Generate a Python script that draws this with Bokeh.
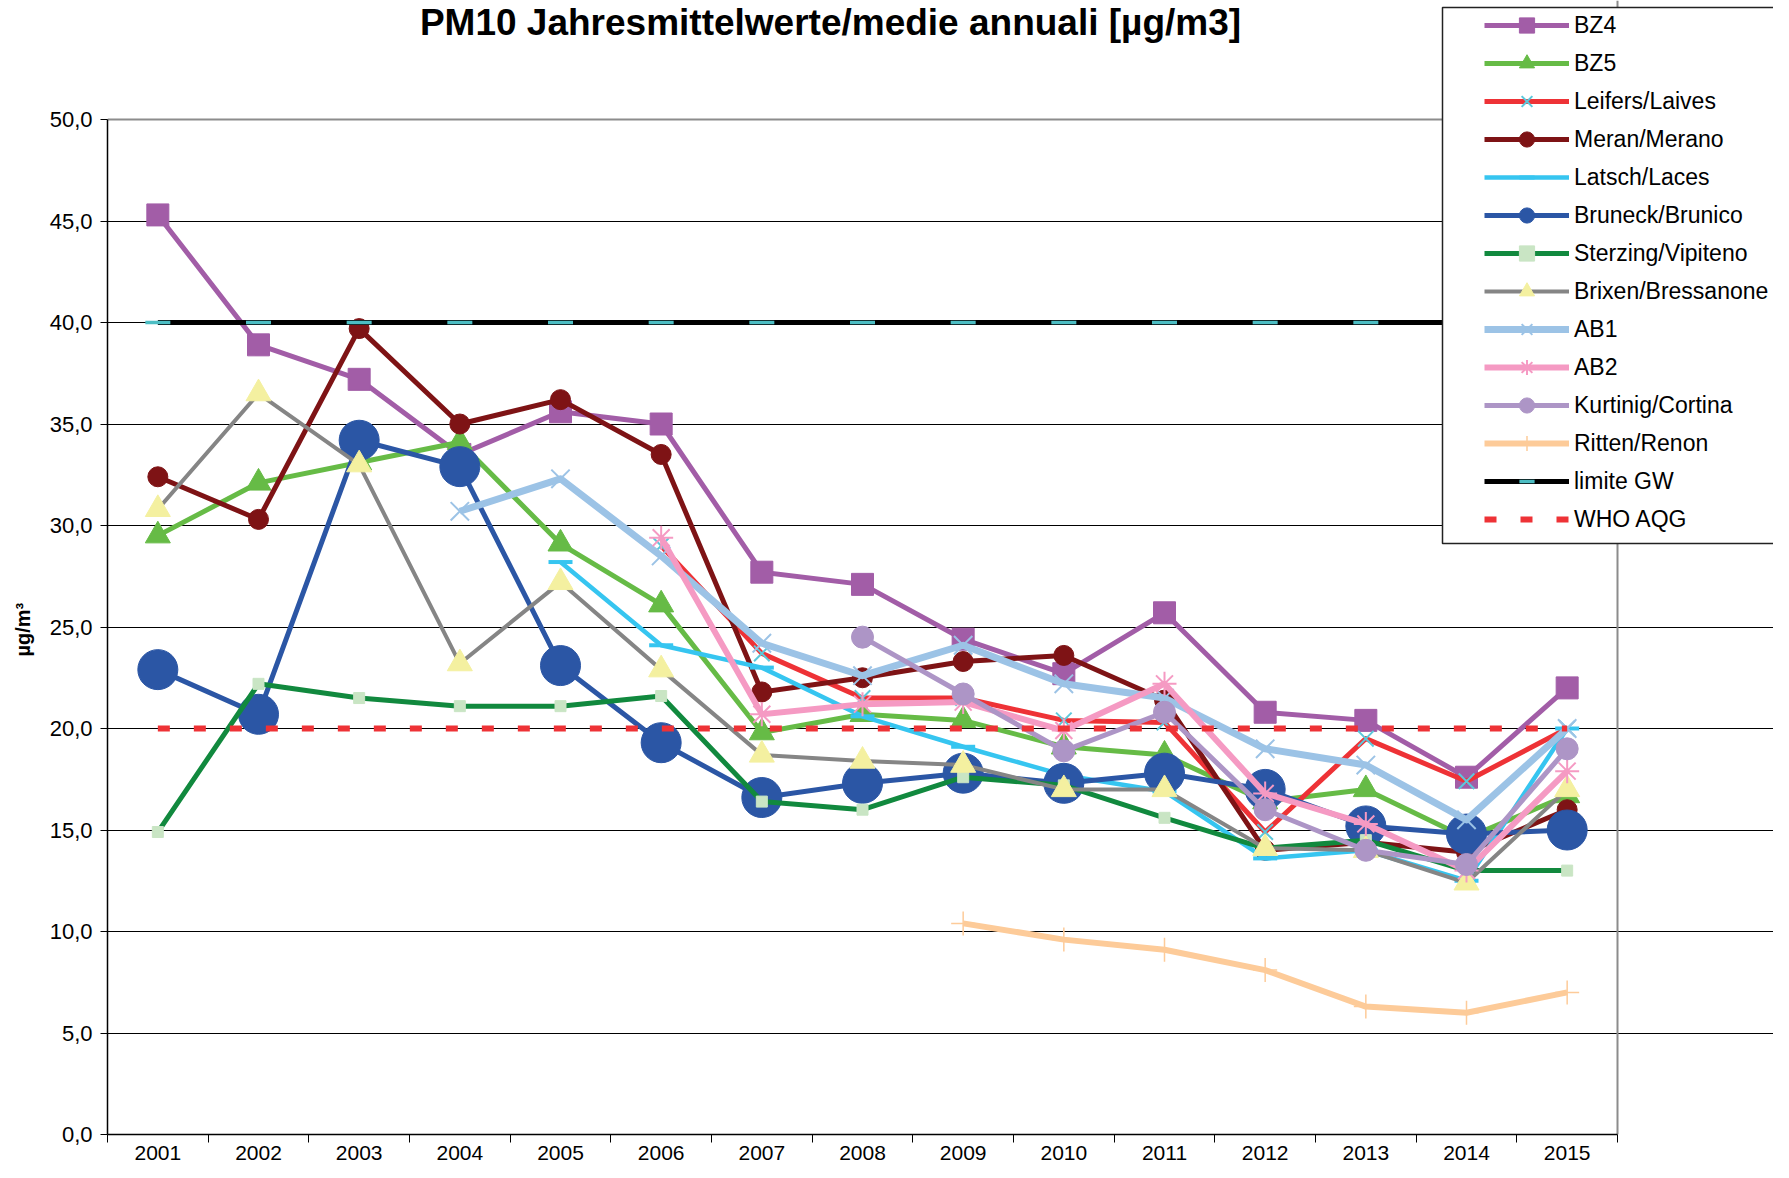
import numpy as np
from bokeh.plotting import figure
from bokeh.models import Range1d, FixedTicker, Legend, LegendItem, Label, BoxAnnotation, Grid, Title
from bokeh.embed import file_html
from bokeh.resources import INLINE

# ---------------- data ----------------
years = [2001, 2002, 2003, 2004, 2005, 2006, 2007, 2008, 2009, 2010, 2011, 2012, 2013, 2014, 2015]
y_ticks = [0, 5, 10, 15, 20, 25, 30, 35, 40, 45, 50]
y_tick_labels = ["0,0", "5,0", "10,0", "15,0", "20,0", "25,0", "30,0", "35,0", "40,0", "45,0", "50,0"]

title_text = "PM10 Jahresmittelwerte/medie annuali [µg/m3]"
y_label = "µg/m³"

bz4 = [45.3, 38.9, 37.2, 33.5, 35.6, 35.0, 27.7, 27.1, 24.4, 22.7, 25.7, 20.8, 20.4, 17.6, 22.0]
bz5 = [29.5, 32.1, 33.1, 34.1, 29.1, 26.1, 19.8, 20.7, 20.4, 19.1, 18.7, 16.4, 17.0, 14.6, 16.7]
leifers = [None, None, None, None, None, 29.0, 23.7, 21.5, 21.5, 20.4, 20.3, 14.9, 19.5, 17.4, 20.0]
meran = [32.4, 30.3, 39.7, 35.0, 36.2, 33.5, 21.8, 22.5, 23.3, 23.6, 21.4, 14.0, 14.4, 13.9, 16.0]
latsch = [None, None, None, None, 28.2, 24.1, 23.0, 20.6, 19.1, 17.7, 16.9, 13.6, 14.0, 12.5, 20.0]
bruneck = [22.9, 20.7, 34.2, 32.9, 23.1, 19.3, 16.6, 17.3, 17.8, 17.3, 17.8, 17.0, 15.2, 14.8, 15.0]
sterzing = [14.9, 22.2, 21.5, 21.1, 21.1, 21.6, 16.4, 16.0, 17.6, 17.2, 15.6, 14.1, 14.5, 13.0, 13.0]
brixen = [30.8, 36.5, 33.0, 23.2, 27.2, 22.9, 18.7, 18.4, 18.2, 17.0, 17.0, 14.1, 14.0, 12.4, 17.0]
ab1 = [None, None, None, 30.7, 32.3, 28.5, 24.2, 22.6, 24.1, 22.2, 21.5, 19.0, 18.2, 15.5, 20.0]
ab2 = [None, None, None, None, None, 29.4, 20.7, 21.2, 21.3, 19.9, 22.2, 16.8, 15.3, 13.0, 17.9]
kurtinig = [None, None, None, None, None, None, None, 24.5, 21.7, 18.9, 20.8, 16.0, 14.0, 13.3, 19.0]
ritten = [None, None, None, None, None, None, None, None, 10.4, 9.6, 9.1, 8.1, 6.3, 6.0, 7.0]
limite_gw = [40.0, 40.0, 40.0, 40.0, 40.0, 40.0, 40.0, 40.0, 40.0, 40.0, 40.0, 40.0, 40.0, 40.0, 40.0]
who_aqg = [20.0, 20.0, 20.0, 20.0, 20.0, 20.0, 20.0, 20.0, 20.0, 20.0, 20.0, 20.0, 20.0, 20.0, 20.0]

# name, values, line colour, line width, marker, marker size, fill, marker line colour, marker line width
series = [
    ("BZ4", bz4, "#A25DA7", 5, "square", 22, "#A25DA7", "#A25DA7", 1),
    ("BZ5", bz5, "#66BB46", 5, "triangle", 25, "#66BB46", "#66BB46", 1),
    ("Leifers/Laives", leifers, "#EE3236", 5, "x", 22, None, "#5CC8DB", 2),
    ("Meran/Merano", meran, "#7E1315", 5, "circle", 20, "#7E1315", "#7E1315", 1),
    ("Latsch/Laces", latsch, "#36C5F0", 4.5, "dash", 24, None, "#36C5F0", 4),
    ("Bruneck/Brunico", bruneck, "#2B56A5", 5, "circle", 40, "#2B56A5", "#2B56A5", 1),
    ("Sterzing/Vipiteno", sterzing, "#11893E", 5, "square", 11, "#C9E5C4", "#C9E5C4", 1),
    ("Brixen/Bressanone", brixen, "#858585", 4, "triangle", 25, "#F4F0A0", "#F4F0A0", 1),
    ("AB1", ab1, "#9CC3E6", 7, "x", 26, None, "#9CC3E6", 2),
    ("AB2", ab2, "#F59AC3", 6, "asterisk", 24, None, "#F59AC3", 2),
    ("Kurtinig/Cortina", kurtinig, "#AD95C6", 5, "circle", 22, "#AD95C6", "#AD95C6", 1),
    ("Ritten/Renon", ritten, "#FDCB99", 6, "cross", 24, None, "#FDCB99", 1.5),
    ("limite GW", limite_gw, "#000000", 5, "dash", 25, None, "#4CBDC3", 3.5),
]

FONT = "Liberation Sans"

# plot area: 2000.5..2015.5 on x, 0..50 on y; the frame is extended to the
# canvas top and right so the title and the legend can be drawn there
W, H = 1773, 1162
FL, FB = 107, 1134           # frame left / bottom in canvas px
px_per_year = 1510 / 15
px_per_unit = 1015 / 50
x_lo = years[0] - 0.5
x_hi = years[-1] + 0.5
x_end = x_lo + (W - FL) / px_per_year
y_end = FB / px_per_unit

p = figure(width=W, height=H,
           x_range=Range1d(x_lo, x_end), y_range=Range1d(0, y_end),
           output_backend="svg", toolbar_location=None,
           min_border_left=FL, min_border_right=0, min_border_top=0,
           min_border_bottom=H - FB,
           background_fill_color="white", border_fill_color="white")
p.outline_line_color = None

# x axis: labels centred on the years, tick marks between categories
boundaries = [y - 0.5 for y in years] + [years[-1] + 0.5]
p.xaxis.bounds = (x_lo, x_hi)
p.xaxis.ticker = FixedTicker(ticks=years, minor_ticks=boundaries)
p.xaxis.major_tick_out = 0
p.xaxis.major_tick_in = 0
p.xaxis.minor_tick_out = 8
p.xaxis.minor_tick_in = 0
p.xaxis.minor_tick_line_color = "black"
p.xaxis.minor_tick_line_width = 1
p.xaxis.axis_line_color = "black"
p.xaxis.axis_line_width = 1.5
p.xaxis.major_label_standoff = 3
p.xaxis.major_label_text_font = FONT
p.xaxis.major_label_text_font_size = "21px"
p.xaxis.major_label_text_color = "black"

p.yaxis.bounds = (y_ticks[0], y_ticks[-1])
p.yaxis.ticker = FixedTicker(ticks=y_ticks, minor_ticks=[])
p.yaxis.major_label_overrides = dict(zip(y_ticks, y_tick_labels))
p.yaxis.major_tick_out = 7
p.yaxis.major_tick_in = 0
p.yaxis.major_tick_line_color = "black"
p.yaxis.minor_tick_line_color = None
p.yaxis.axis_line_color = "black"
p.yaxis.axis_line_width = 1.5
p.yaxis.major_label_standoff = 8
p.yaxis.major_label_text_font = FONT
p.yaxis.major_label_text_font_size = "22px"
p.yaxis.major_label_text_color = "black"

# y-axis title, placed beside the 0..50 part of the axis
ytitle = Title(text=y_label, align="left", vertical_align="top", offset=478, standoff=22,
               text_font=FONT, text_font_style="bold", text_font_size="20px",
               text_color="black")
p.add_layout(ytitle, "left")

p.xgrid.visible = False
p.ygrid.ticker = FixedTicker(ticks=y_ticks[1:-1])
p.ygrid.bounds = (x_lo, x_hi)
p.ygrid.grid_line_color = "black"
p.ygrid.grid_line_width = 1

# grey border of the plot area (top and right)
p.add_layout(Grid(dimension=1, ticker=FixedTicker(ticks=[y_ticks[-1]]), bounds=(x_lo, x_hi),
                  grid_line_color="#8C8C8C", grid_line_width=2))
p.add_layout(Grid(dimension=0, ticker=FixedTicker(ticks=[x_hi]), bounds=(y_ticks[0], y_ticks[-1]),
                  grid_line_color="#8C8C8C", grid_line_width=2))

items = []
for name, vals, lc, lw, mk, ms, fc, mlc, mlw in series:
    arr = np.array(vals, dtype=float)
    rl = p.line(years, arr, line_color=lc, line_width=lw, line_join="round")
    rm = p.scatter(years, arr, marker=mk, size=ms, fill_color=fc, line_color=mlc,
                   line_width=mlw)
    items.append(LegendItem(label=name, renderers=[rl, rm]))

rw = p.line(years, np.array(who_aqg, dtype=float), line_color="#EE3236", line_width=6,
            line_dash="12 24", line_cap="butt")
items.append(LegendItem(label="WHO AQG", renderers=[rw]))

# legend box (white, covers plot area underneath)
box = BoxAnnotation(left=1335, right=1700, bottom=591, top=1127,
                    left_units="screen", right_units="screen",
                    bottom_units="screen", top_units="screen",
                    fill_color="white", fill_alpha=1.0,
                    line_color="#222222", line_width=1.5, line_alpha=1.0)
p.add_layout(box)

legend = Legend(items=items, location=(1375, 594), padding=2, spacing=0, margin=0,
                glyph_width=85, glyph_height=38, label_height=38, label_standoff=5,
                label_text_font=FONT, label_text_font_size="23px",
                label_text_color="black",
                border_line_alpha=0, background_fill_alpha=0)
p.add_layout(legend, "center")

title = Label(x=723, y=1112, x_units="screen", y_units="screen", text=title_text,
              text_font=FONT, text_font_style="bold", text_font_size="37px",
              text_align="center", text_baseline="alphabetic", text_color="black")
p.add_layout(title)

open("out.html", "w").write(file_html(p, INLINE))
